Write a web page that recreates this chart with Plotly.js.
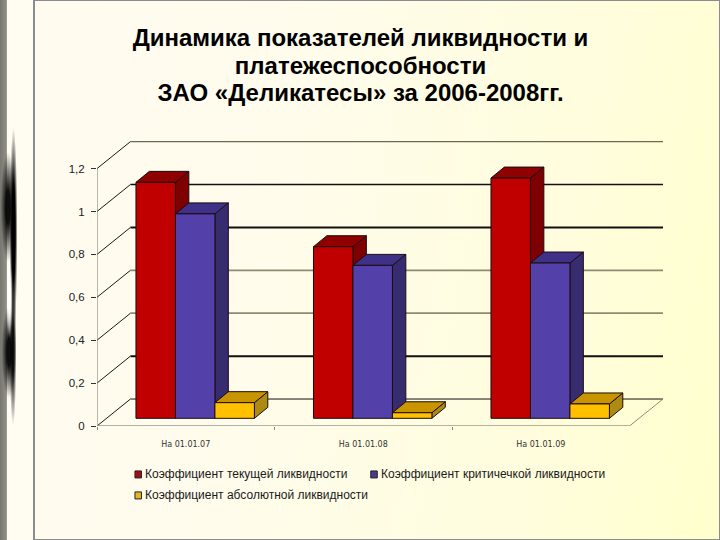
<!DOCTYPE html>
<html><head><meta charset="utf-8">
<script src="https://cdn.plot.ly/plotly-3.0.1.min.js"></script>
<style>
html,body{margin:0;padding:0;width:720px;height:540px;overflow:hidden;background:#fffcf2}
#strip{position:absolute;left:0;top:0;width:33px;height:540px;
 background:
  radial-gradient(ellipse 3px 40px at 9.5px 298px,rgba(255,255,255,1) 30%,rgba(255,255,255,0)),
  radial-gradient(ellipse 4px 105px at 13.5px 232px,rgba(0,0,0,1) 45%,rgba(0,0,0,0)),
  radial-gradient(ellipse 7.5px 55px at 8px 207px,rgba(0,0,0,.95) 30%,rgba(0,0,0,0)),
  radial-gradient(ellipse 7.5px 46px at 9px 352px,rgba(0,0,0,.95) 30%,rgba(0,0,0,0)),
  radial-gradient(ellipse 3.5px 76px at 13px 350px,rgba(0,0,0,.9) 30%,rgba(0,0,0,0)),
  linear-gradient(90deg,#77776f 0,#8f8f87 6px,#a5a59c 7px,#fffcf2 7.5px,#fffcf2 33px)}
#panel{position:absolute;left:33px;top:0;width:685px;height:538px;border:1px solid #8b8b92;
 box-shadow:inset 1px 0 0 #8b8b92;
 background:linear-gradient(100deg,#fffbf0 0,#fffcec 35%,#fffddc 75%,#ffffcc 100%)}
#chart{position:absolute;left:0;top:0;width:720px;height:540px}
</style></head><body>
<div id="strip"></div><div id="panel"></div><div id="chart"></div>
<script>
var categories = ['На 01.01.07','На 01.01.08','На 01.01.09'];
var seriesNames = ['Коэффициент текущей ликвидности','Коэффициент критичечкой ликвидности','Коэффициент абсолютной ликвидности'];
var currentRatio = [1.10,0.80,1.12];
var criticalRatio = [0.953,0.713,0.724];
var absoluteRatio = [0.073,0.026,0.067];
var tickValues = [0,0.2,0.4,0.6,0.8,1,1.2];
var tickLabels = ['0','0,2','0,4','0,6','0,8','1','1,2'];
var titleLines = ['Динамика показателей ликвидности и','платежеспособности','ЗАО «Деликатесы» за 2006-2008гг.'];

var seriesValues = [currentRatio,criticalRatio,absoluteRatio];
var frontCol = ['#c00000','#5340a8','#ffc000'];
var sideCol  = ['#7e0000','#372c70','#ad8a12'];
var topCol   = ['#8f0000','#3f3187','#c89400'];
var swatchCol= ['#a00f18','#4a3a90','#e6b422'];
var edge = '#1c0c10';
var gridCol = ['#111111','#111111','#8c8c70','#8c8c70','#111111','#111111','#6a6a55'];
var gridW   = [1,2,1.8,1.8,2,1.5,1.5];

/* fake-3D geometry in data units */
var xMin=-0.5, xMax3=2.5, wallDx=0.1886, wallDy=0.1257, barDx=0.0755, barDy=0.0512, lift=0.0358;
var barW=0.2224, barStart=-0.2805;
var xRange=[xMin,xMax3+wallDx], yRange=[0,1.3285];

var traces=[];
function line(xs,ys,c,w){traces.push({type:'scatter',mode:'lines',x:xs,y:ys,line:{color:c,width:w},hoverinfo:'skip',showlegend:false,cliponaxis:false});}
function poly(xs,ys,c){traces.push({type:'scatter',mode:'lines',x:xs,y:ys,fill:'toself',fillcolor:c,line:{color:edge,width:1},hoverinfo:'skip',showlegend:false,cliponaxis:false});}

tickValues.forEach(function(v,i){
  line([xMin+wallDx,xMax3+wallDx],[v+wallDy,v+wallDy],gridCol[i],gridW[i]);
  line([xMin,xMin+wallDx],[v,v+wallDy],'#1a1a14',1);
});
line([xMin,xMin],[0,1.2],'#77776a',1);
line([xMin,xMax3],[0,0],'#9a9a88',1.5);
line([xMax3,xMax3+wallDx],[0,wallDy],'#8c8c78',1);

categories.forEach(function(c,i){
  seriesValues.forEach(function(vals,s){
    var l=i+barStart+s*barW, r=l+barW, b=lift, t=lift+vals[i];
    poly([r,r+barDx,r+barDx,r,r],[b,b+barDy,t+barDy,t,b],sideCol[s]);
    poly([l,l+barDx,r+barDx,r,l],[t,t+barDy,t+barDy,t,t],topCol[s]);
  });
});
seriesValues.forEach(function(vals,s){
  traces.push({type:'bar',name:seriesNames[s],x:categories,y:vals,base:lift,width:barW,
    offset:barStart+s*barW,xaxis:'x2',yaxis:'y2',
    marker:{color:frontCol[s],line:{color:edge,width:1}},showlegend:false});
});

var L=96.5,T=140.7,W=566.5,H=285.3;
function px(p){return (p-L)/W;} function py(p){return 1-(p-T)/H;}
var legendPos=[[134.5,474.5],[370.5,474.5],[134.5,495.5]];
var shapes=[],ann=[];
seriesNames.forEach(function(n,s){
  var p=legendPos[s];
  shapes.push({type:'rect',xref:'paper',yref:'paper',x0:px(p[0]),x1:px(p[0]+6.5),y0:py(p[1]+3.5),y1:py(p[1]-3.5),fillcolor:swatchCol[s],line:{color:'#222222',width:1}});
  ann.push({xref:'paper',yref:'paper',x:px(p[0]+8.5),y:py(p[1]),xanchor:'left',yanchor:'middle',showarrow:false,text:n,font:{family:'Liberation Sans',size:12,color:'#1a1a1a'}});
});

var titleText = titleLines.map(function(t){return '<span style="font-size:24px">'+t+'</span>';}).join('<br>');
var layout={
  width:720,height:540,paper_bgcolor:'rgba(0,0,0,0)',plot_bgcolor:'rgba(0,0,0,0)',showlegend:false,
  margin:{l:L,t:T,r:720-L-W,b:540-T-H,pad:0},barmode:'overlay',
  title:{text:titleText,font:{family:'Liberation Sans',size:21.2,color:'#000',weight:700},x:360.5/720,xanchor:'center',y:1-46/540,yanchor:'top'},
  xaxis:{type:'linear',range:xRange,showgrid:false,zeroline:false,showticklabels:false,tickmode:'array',tickvals:[xMin,xMin+1,xMin+2],ticks:'outside',ticklen:3,tickcolor:'#888',showline:false},
  yaxis:{type:'linear',range:yRange,tickmode:'array',tickvals:tickValues,ticktext:tickLabels,ticks:'outside',ticklen:5,tickcolor:'#333',tickwidth:1,showgrid:false,zeroline:false,showline:false,
    tickfont:{family:'Liberation Sans',size:11.5,color:'#222'},ticklabelstandoff:4},
  xaxis2:{type:'category',overlaying:'x',anchor:'y2',categoryorder:'array',categoryarray:categories,range:xRange,ticks:'',showgrid:false,zeroline:false,showline:false,
    tickfont:{family:'DejaVu Sans',size:8,color:'#333'},ticklabelstandoff:12},
  yaxis2:{overlaying:'y',anchor:'x2',range:yRange,visible:false,showgrid:false,zeroline:false},
  shapes:shapes,annotations:ann
};
Plotly.newPlot('chart',traces,layout,{staticPlot:true,displayModeBar:false});
</script></body></html>
